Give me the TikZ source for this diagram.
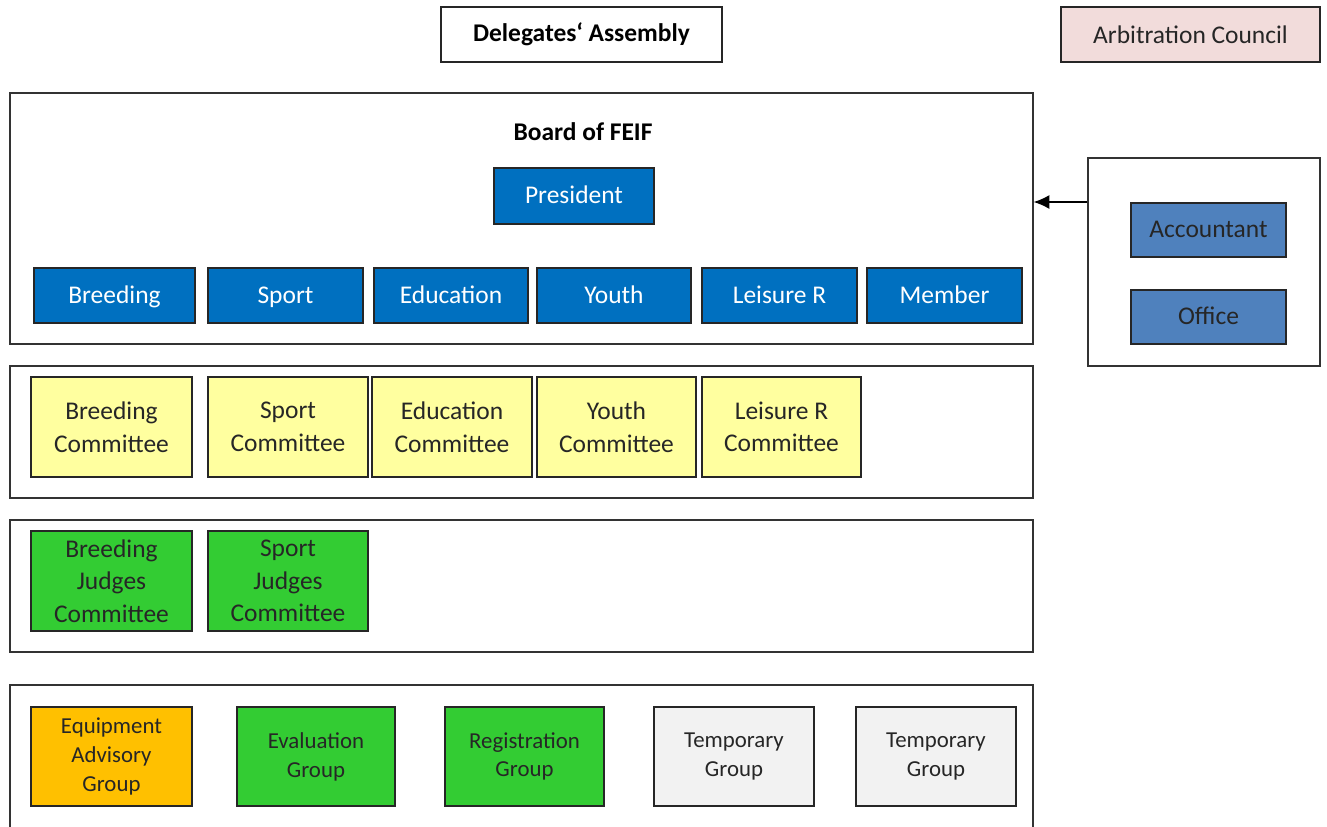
\documentclass[tikz,border=0pt]{standalone}
\usepackage{fontspec}
\setmainfont{Carlito}
\usetikzlibrary{arrows.meta}
\definecolor{boardblue}{HTML}{0070C0}
\definecolor{staffblue}{HTML}{4F81BD}
\definecolor{comyellow}{HTML}{FFFF9F}
\definecolor{judgegreen}{HTML}{33CC33}
\definecolor{advorange}{HTML}{FFC000}
\definecolor{tmpgrey}{HTML}{F2F2F2}
\definecolor{arbpink}{HTML}{F2DCDB}
\begin{document}
\begin{tikzpicture}[x=0.02cm,y=-0.02cm]
\tikzstyle{every node}=[font=\fontsize{14.5}{18.5}\selectfont]
\tikzstyle{box}=[draw=black!85,line width=0.8pt,align=center,inner sep=2pt,minimum width=3.1cm,minimum height=1.1cm]
\tikzstyle{frame}=[draw=black!80,line width=0.8pt,inner sep=0pt]
\tikzstyle{board}=[box,fill=boardblue,text=white,text height=2.3ex,text depth=0.4ex]
\tikzstyle{staff}=[box,fill=staffblue,text=black!85,text height=2.3ex,text depth=0.4ex]
\tikzstyle{comm}=[box,fill=comyellow,text=black!85,minimum width=3.2cm,minimum height=2cm]
\tikzstyle{judge}=[comm,fill=judgegreen]
\tikzstyle{grp}=[comm,minimum height=1.98cm,font=\fontsize{13}{16.4}\selectfont]
\useasboundingbox (0,0) rectangle (1327,826);
% top
\node[box,minimum width=5.62cm,font=\fontsize{14.5}{18.5}\selectfont\bfseries] (da) at (581.5,34.5) {Delegates‘ Assembly};
\node[box,minimum width=5.18cm,fill=arbpink,text=black!85] (ac) at (1190.5,34.5) {Arbitration Council};
% board
\node[frame,minimum width=20.46cm,minimum height=5.02cm] (boardframe) at (521.5,218.5) {};
\node[font=\fontsize{14.5}{18.5}\selectfont\bfseries] (bt) at (583,132) {Board of FEIF};
\node[board,minimum width=3.2cm,minimum height=1.12cm] (pres) at (574,196) {President};
\node[board,minimum width=3.22cm] (b1) at (114.5,295.5) {Breeding};
\node[board] (b2) at (285.5,295.5) {Sport};
\node[board,minimum width=3.08cm] (b3) at (451,295.5) {Education};
\node[board,minimum width=3.08cm] (b4) at (614,295.5) {Youth};
\node[board] (b5) at (779.5,295.5) {Leisure R};
\node[board] (b6) at (944.5,295.5) {Member};
% office
\node[frame,minimum width=4.64cm,minimum height=4.16cm] (staffframe) at (1204,262) {};
\node[staff,minimum height=1.08cm] (acc) at (1208.5,230) {Accountant};
\node[staff,minimum height=1.08cm] (off) at (1208.5,317) {Office};
\draw[-{Latex[length=9pt,width=8pt]},line width=0.8pt] (staffframe.west |- 0,202) -- (boardframe.east |- 0,202);
% committees
\node[frame,minimum width=20.46cm,minimum height=2.64cm] (comframe) at (521.5,432) {};
\node[comm,minimum width=3.22cm] (c1) at (111.5,427) {Breeding\\Committee};
\node[comm] (c2) at (288,427) {Sport\\Committee};
\node[comm] (c3) at (452,427) {Education\\Committee};
\node[comm,minimum width=3.18cm] (c4) at (616.5,427) {Youth\\Committee};
\node[comm,minimum width=3.18cm] (c5) at (781.5,427) {Leisure R\\Committee};
% judges
\node[frame,minimum width=20.46cm,minimum height=2.64cm] (jframe) at (521.5,586) {};
\node[judge,minimum width=3.22cm] (j1) at (111.5,581) {Breeding\\Judges\\Committee};
\node[judge] (j2) at (288,581) {Sport\\Judges\\Committee};
% groups
\draw[draw=black!80,line width=0.8pt] (10,830) -- (10,685) -- (1033,685) -- (1033,830);
\node[grp,fill=advorange,minimum width=3.22cm] (g1) at (111.5,756.5) {Equipment\\Advisory\\Group};
\node[grp,fill=judgegreen,minimum width=3.16cm] (g2) at (316,756.5) {Evaluation\\Group};
\node[grp,fill=judgegreen,minimum width=3.18cm] (g3) at (524.5,756.5) {Registration\\Group};
\node[grp,fill=tmpgrey] (g4) at (734,756.5) {Temporary\\Group};
\node[grp,fill=tmpgrey] (g5) at (936,756.5) {Temporary\\Group};
\end{tikzpicture}
\end{document}
